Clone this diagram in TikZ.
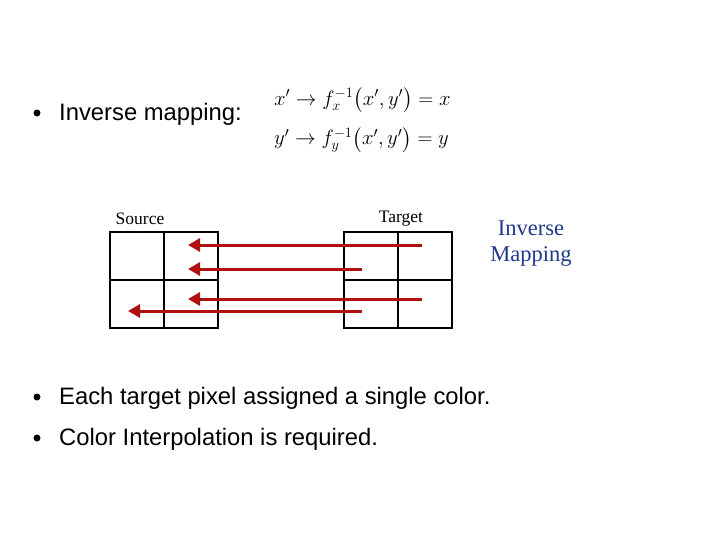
\documentclass[tikz,border=0pt]{standalone}
\usepackage{amsmath}
\usepackage{fontspec}
\setmainfont{Liberation Sans}
\newfontfamily\timesfont{Liberation Serif}
\usetikzlibrary{arrows.meta}
\definecolor{arrowred}{RGB}{176,16,16}
\definecolor{mapblue}{RGB}{31,56,140}
\tikzset{
  bullet/.style={circle, fill, inner sep=0pt, minimum size=7pt},
  bullettext/.style={anchor=west, inner sep=0pt, font=\fontsize{23.8}{28}\selectfont},
  gridbox/.style={draw, line width=2pt, minimum width=108pt, minimum height=96pt, inner sep=0pt},
  maparrow/.style={->, draw=arrowred, line width=3pt},
  gridlabel/.style={inner sep=0pt, font=\timesfont\fontsize{17.5}{20}\selectfont},
  eqn/.style={anchor=west, inner sep=0pt, font=\fontsize{22.5}{26}\selectfont}
}
\begin{document}
\begin{tikzpicture}[x=1pt, y=-1pt, >={Triangle[length=12pt,width=13pt]}]
\useasboundingbox (0,0) rectangle (720,540);
\node[bullet] (b1) at (37,113) {};
\node[bullettext] (inv) at (59,114) {Inverse mapping:};
\node[eqn] (eqx) at (274,100) {$x'\rightarrow f_x^{-1}\bigl(x',y'\bigr)= x$};
\node[eqn] (eqy) at (274,140) {$y'\rightarrow f_y^{-1}\bigl(x',y'\bigr)= y$};
\node[gridlabel] (srclabel) at (140,219) {Source};
\node[gridlabel] (tgtlabel) at (401,219) {Target};
\node[gridbox] (src) at (164,280) {};
\node[gridbox] (tgt) at (398,280) {};
\draw[line width=2pt] (src.north) -- (src.south);
\draw[line width=2pt] (src.west) -- (src.east);
\draw[line width=2pt] (tgt.north) -- (tgt.south);
\draw[line width=2pt] (tgt.west) -- (tgt.east);
\coordinate (t1) at (422,245);
\coordinate (t2) at (362,269);
\coordinate (t3) at (422,299);
\coordinate (t4) at (362,311);
\coordinate (s1) at (188,245);
\coordinate (s2) at (188,269);
\coordinate (s3) at (188,299);
\coordinate (s4) at (128,311);
\draw[maparrow] (t1) -- (s1);
\draw[maparrow] (t2) -- (s2);
\draw[maparrow] (t3) -- (s3);
\draw[maparrow] (t4) -- (s4);
\node[align=center, text=mapblue, font=\timesfont\fontsize{22.5}{26}\selectfont] (maplabel) at (531,244) {Inverse\\Mapping};
\node[bullet] (b2) at (37,397) {};
\node[bullettext] (each) at (59,398) {Each target pixel assigned a single color.};
\node[bullet] (b3) at (37,438) {};
\node[bullettext] (color) at (59,439) {Color Interpolation is required.};
\end{tikzpicture}
\end{document}
